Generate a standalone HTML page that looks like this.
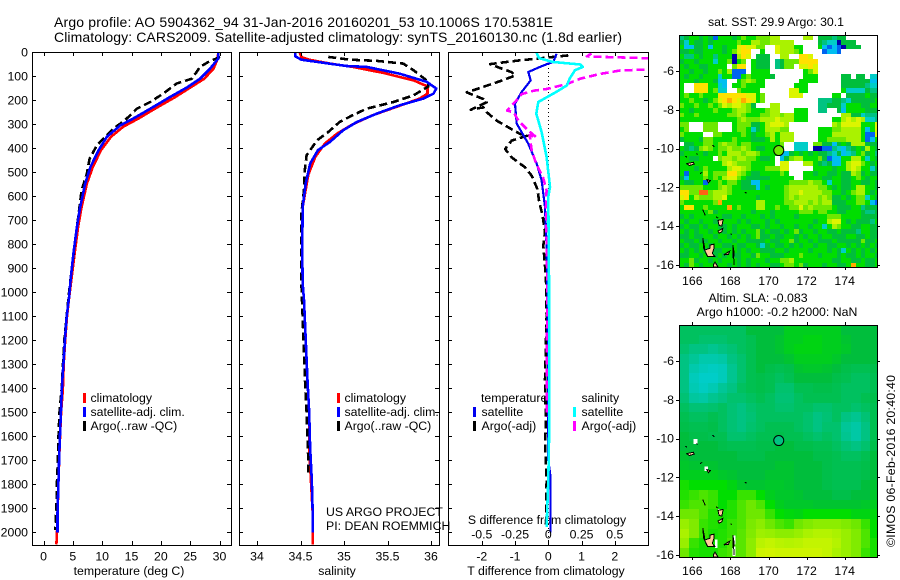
<!DOCTYPE html>
<html>
<head>
<meta charset="utf-8">
<style>
html,body{margin:0;padding:0;background:#fff;width:900px;height:580px;overflow:hidden}
svg{display:block}
text{font-family:"Liberation Sans",sans-serif;font-size:12.3px;fill:#000}
</style>
</head>
<body>
<svg id="chart" xmlns="http://www.w3.org/2000/svg" width="900" height="580" viewBox="0 0 900 580">
<text x="54" y="27" style="font-size:14px" textLength="499" lengthAdjust="spacing">Argo profile: AO 5904362_94 31-Jan-2016 20160201_53 10.1006S 170.5381E</text>
<text x="54" y="42" style="font-size:14px" textLength="568" lengthAdjust="spacing">Climatology: CARS2009. Satellite-adjusted climatology: synTS_20160130.nc (1.8d earlier)</text>
<text x="129" y="575" text-anchor="middle">temperature (deg C)</text>
<text x="337" y="575" text-anchor="middle">salinity</text>
<text x="546" y="575" text-anchor="middle">T difference from climatology</text>
<text x="547" y="524" text-anchor="middle">S difference from climatology</text>
<text x="90.5" y="402">climatology</text>
<text x="90.5" y="416">satellite-adj. clim.</text>
<text x="90.5" y="430">Argo(..raw -QC)</text>
<text x="344.5" y="402">climatology</text>
<text x="344.5" y="416">satellite-adj. clim.</text>
<text x="344.5" y="430">Argo(..raw -QC)</text>
<text x="326" y="516">US ARGO PROJECT</text>
<text x="326" y="530">PI: DEAN ROEMMICH</text>
<text x="481" y="402">temperature</text>
<text x="481.5" y="416">satellite</text>
<text x="481.5" y="430">Argo(-adj)</text>
<text x="581.5" y="402">salinity</text>
<text x="581.5" y="416">satellite</text>
<text x="581.5" y="430">Argo(-adj)</text>
<text x="776" y="26" text-anchor="middle">sat. SST: 29.9 Argo: 30.1</text>
<text x="758" y="302" text-anchor="middle">Altim. SLA: -0.083</text>
<text x="777" y="316" text-anchor="middle">Argo h1000: -0.2 h2000: NaN</text>
<text x="0" y="0" transform="translate(895,461) rotate(-90)" text-anchor="middle" textLength="172" lengthAdjust="spacing">©IMOS 06-Feb-2016 20:40:40</text>
</svg>
<script>
const _ = null;

const depthTicks = [0,100,200,300,400,500,600,700,800,900,1000,1100,1200,1300,1400,1500,1600,1700,1800,1900,2000];
const tempTicks = [0,5,10,15,20,25,30];
const salTicks = [34,34.5,35,35.5,36];
const tDiffTicks = [-2,-1,0,1,2];
const sDiffTicks = [-0.5,-0.25,0,0.25,0.5];
const sDiffTickLabels = ['-0.5','-0.25','0','0.25','0.5'];
const lonTicks = [166,168,170,172,174];
const latTicks = [-6,-8,-10,-12,-14,-16];

const tempClimDepth = [0,26,68,110,147,186,235,276,310,352,408,478,547,644,728,839,936,1026,1100,1200,1300,1400,1500,1645,1783,1921,2000,2050];
const tempClimValues = [29.8,29.7,29,27.4,25,22.5,19,16.2,13.6,11.5,9.8,8.4,7.4,6.5,5.9,5.3,4.8,4.35,4.0,3.7,3.45,3.3,3.0,2.75,2.55,2.4,2.3,2.2];
const tempSatDepth = [0,26,68,110,147,186,235,276,304,352,408,478,547,644,728,839,936,1026,1100,1200,1300,1367,1499,1645,1783,1921,2000];
const tempSatValues = [29.8,29.8,28.4,26.7,24.4,21.6,18.2,15.3,13.1,10.8,9.4,8,7.1,6.25,5.7,5.1,4.67,4.33,3.95,3.65,3.4,3.2,2.96,2.73,2.56,2.39,2.39];
const tempArgoDepth = [19,40,61,110,130,172,207,235,283,318,360,388,443,505,575,672,783,936,1026,1200,1400,1500,1600,1700,1800,1900,1990];
const tempArgoValues = [30.1,28.1,26.7,25.3,22.7,20.4,18.2,15.9,13.9,11.9,10.2,9.1,7.85,7.4,6.5,6,5.4,4.65,4.25,3.55,3.1,2.73,2.56,2.45,2.28,2.2,2.0];

const salClimDepth = [0,20,31,47,61,86,117,142,172,193,228,262,300,339,380,436,510,644,825,964,1033,1367,1500,1645,1783,1921,2000,2050];
const salClimValues = [34.49,34.51,34.6,34.84,35.1,35.45,35.8,35.96,35.96,35.87,35.6,35.33,35.1,34.92,34.78,34.67,34.59,34.525,34.52,34.525,34.54,34.58,34.6,34.6,34.62,34.64,34.64,34.64];
const salSatDepth = [0,17,31,40,57,61,89,123,151,172,193,221,255,290,325,373,408,464,547,644,825,964,1033,1367,1500,1645,1783,1921,2000];
const salSatValues = [34.44,34.44,34.51,34.69,35.03,35.26,35.64,35.95,36.06,36.03,35.91,35.64,35.38,35.15,34.99,34.84,34.7,34.61,34.56,34.525,34.52,34.525,34.54,34.58,34.6,34.61,34.63,34.64,34.64];
const salArgoDepth = [19,31,36,47,75,123,142,179,207,235,262,290,332,367,429,492,575,672,964,1400,1500,1700,1750];
const salArgoValues = [34.82,35.07,35.38,35.68,35.8,35.97,35.97,35.8,35.57,35.26,35.1,34.95,34.82,34.69,34.57,34.55,34.54,34.51,34.51,34.555,34.57,34.59,34.59];

const tDiffSatDepth = [6,40,47,61,82,117,165,214,297,381,464,533,644,811,950,1367,1700,1770,2000];
const tDiffSatValues = [0.25,0.15,0,-0.25,-0.6,-0.53,-0.8,-1,-0.95,-0.6,-0.35,-0.2,-0.1,-0.05,-0.03,0,0,0.07,0.07];
const tDiffArgoDepth = [13,35,42,49,63,83,97,118,132,167,181,195,208,239,229,250,285,313,340,347,368,403,438,479,514,569,625,680,750,805,889,944,1100,1367,1550,1625,1783,1977];
const tDiffArgoValues = [0.6,-0.95,-1.35,-1.75,-1.5,-1.1,-1,-1.4,-1.7,-2.45,-2.2,-1.95,-1.85,-2.33,-1.95,-1.85,-1.55,-1.2,-0.85,-0.63,-1.1,-1.3,-1.1,-0.7,-0.5,-0.33,-0.27,-0.17,-0.1,-0.15,-0.1,-0.07,-0.05,-0.1,-0.07,-0.1,-0.05,-0.07];
const sDiffSatDepth = [0,24,40,51,61,75,110,138,165,207,256,332,436,561,603,950,1547,1783,1977];
const sDiffSatValues = [-0.09,-0.07,0.03,0.24,0.26,0.2,0.16,0.14,0.06,-0.075,-0.09,-0.05,-0.0125,0.0125,0,0.005,0.0075,0,-0.0125];
const sDiffArgoDepth = [5,17,31,62,76,90,110,132,153,160,174,201,243,250,285,326,354,345,410,465,521,576,644,950,1520];
const sDiffArgoValues = [0.325,0.29,1.1,1.2,0.54,0.39,0.24,0.14,-0.0125,-0.11,-0.2,-0.24,-0.31,-0.26,-0.225,-0.15,-0.09,-0.14,-0.125,-0.09,-0.04,-0.0125,-0.0175,-0.0075,-0.0125];

/* colour level per 0.25 degree cell; _ = no data */
const sstGrid = [
[5,6,7,7,6,7,6,2,7,7,7,6,7,8,7,7,8,8,8,9,9,_,_,_,_,_,9,9,_,6,6,6,5,6,6,_,_,_,_,_,_,_],
[6,4,7,6,6,7,6,7,7,7,7,7,8,7,7,9,9,8,8,9,9,9,9,9,_,_,_,_,_,6,5,4,4,1,6,6,6,_,_,_,_,_],
[7,3,3,6,6,7,3,7,7,6,7,7,10,11,10,10,8,8,_,_,10,9,9,9,7,7,_,_,_,7,3,2,3,2,1,6,6,6,_,_,_,_],
[6,6,7,6,6,7,7,7,7,6,7,8,10,11,11,_,_,7,_,_,10,9,9,9,8,7,_,_,_,_,2,3,3,2,_,_,_,_,_,_,_,_],
[7,5,5,7,6,7,7,5,7,7,7,1,9,11,10,_,6,6,6,_,_,9,9,_,_,11,11,10,_,_,_,_,_,_,_,_,_,_,_,_,_,_],
[6,7,7,6,7,7,7,4,7,7,8,1,7,8,_,7,6,6,6,_,5,6,8,8,8,11,11,11,11,_,_,_,_,_,_,_,_,_,_,_,_,_],
[7,6,7,7,6,6,7,7,7,7,_,8,11,11,_,7,6,6,6,_,5,6,8,8,_,10,10,11,10,_,_,_,_,_,_,_,_,_,_,_,_,_],
[7,7,6,7,7,6,7,7,8,7,9,2,2,2,_,7,7,7,7,_,_,_,_,_,_,_,7,8,10,_,_,_,_,_,_,_,_,_,_,_,_,_],
[7,6,7,7,6,7,7,7,4,7,7,2,2,7,8,7,7,7,7,6,_,_,_,_,_,_,7,7,7,_,_,_,_,_,6,6,_,6,6,_,4,4],
[7,7,7,6,7,7,7,6,3,3,_,_,7,8,9,8,7,7,_,_,_,_,_,_,_,7,7,7,7,_,_,_,_,_,6,6,6,6,6,6,3,3],
[7,_,_,11,11,11,7,7,4,3,_,7,7,8,7,7,7,7,_,_,_,_,_,_,7,7,7,_,_,_,_,_,_,_,6,6,6,6,6,5,4,4],
[7,_,_,11,11,11,7,8,4,4,_,_,8,7,7,7,7,_,_,_,_,_,_,10,10,7,7,_,_,_,_,_,_,_,7,4,4,4,4,6,5,5],
[7,8,7,7,8,7,7,7,11,11,11,11,11,11,10,10,7,8,_,_,_,_,_,10,10,10,_,_,_,_,_,_,7,7,_,6,6,6,6,7,6,6],
[7,7,8,7,7,6,7,8,10,11,12,11,10,12,11,10,7,8,_,_,_,_,_,_,_,_,_,_,_,5,5,5,6,6,5,4,6,6,6,6,6,7],
[8,7,7,8,7,7,8,7,8,10,9,10,10,9,8,6,_,_,_,9,9,_,_,_,_,_,_,_,_,5,5,6,6,6,4,7,7,7,6,6,7,7],
[7,7,6,7,7,7,7,8,7,7,7,8,9,9,8,7,7,7,8,9,9,_,_,_,7,7,7,_,_,5,5,_,_,6,3,7,7,7,7,6,6,6],
[8,7,7,8,7,7,7,7,7,7,8,8,9,8,7,7,7,8,8,9,9,8,9,9,7,7,7,_,_,_,_,_,_,_,9,9,6,6,4,5,5,5],
[7,7,7,7,7,7,7,7,7,7,7,7,8,9,8,8,8,9,9,9,10,9,9,9,7,7,7,_,_,_,_,_,7,7,9,10,9,10,9,4,4,5],
[8,8,_,_,_,8,8,8,_,_,_,7,8,8,8,6,6,7,9,10,10,10,9,_,_,_,_,_,_,_,_,_,9,8,10,10,10,10,7,7,7,10],
[7,8,_,_,_,8,8,8,_,_,_,7,8,8,7,4,6,7,9,9,9,8,8,_,_,_,_,_,_,7,7,7,8,8,9,9,9,9,7,3,7,10],
[8,7,7,7,7,_,_,8,8,7,7,7,7,8,7,6,7,7,8,9,7,9,9,9,_,_,_,_,_,7,7,7,9,9,9,9,9,9,7,2,2,10],
[6,7,7,7,6,8,8,7,7,7,7,8,7,7,7,6,6,6,7,9,7,9,9,9,_,_,_,_,_,7,7,8,8,8,8,9,9,9,7,2,3,7],
[_,6,6,7,7,8,8,7,8,9,8,8,7,8,8,7,7,7,7,7,7,8,_,_,4,4,4,_,8,8,6,6,3,6,7,6,9,9,9,6,6,6],
[7,6,5,6,8,9,8,7,8,8,9,8,8,9,8,7,6,6,7,7,8,7,_,_,4,4,4,_,1,1,2,2,5,4,3,5,6,7,6,9,7,6],
[6,7,7,7,7,6,7,7,8,7,9,9,9,8,9,9,8,7,7,7,7,3,3,6,7,6,7,6,7,6,6,5,4,6,3,4,5,7,8,6,7,5],
[7,7,6,6,7,7,7,_,8,9,9,8,9,9,8,8,7,6,6,7,_,3,6,8,9,9,7,7,7,8,6,2,3,3,7,7,9,9,7,4,7,6],
[7,7,7,7,7,7,7,7,7,9,10,9,8,8,8,7,7,7,7,7,_,10,10,_,_,_,9,9,7,6,5,6,3,3,7,9,10,10,8,7,6,7],
[7,7,7,6,7,8,7,7,7,7,9,10,10,9,8,7,7,7,8,8,8,10,10,_,_,_,_,_,7,7,7,7,6,7,7,9,10,9,7,7,4,6],
[7,2,7,7,7,9,7,8,8,8,11,11,9,8,7,6,6,7,7,7,7,8,7,_,_,_,7,7,6,7,7,6,6,7,6,6,9,8,6,7,6,6],
[6,3,7,7,7,8,7,8,7,9,10,10,8,7,6,6,6,6,6,7,7,7,7,7,_,_,7,7,7,7,6,6,7,7,6,6,7,8,7,6,7,7],
[7,6,6,7,7,2,7,7,8,7,8,8,7,6,6,3,3,7,7,7,7,7,7,8,8,8,8,9,8,8,7,4,7,7,6,6,7,7,6,6,7,6],
[8,8,8,8,8,7,7,7,8,9,8,7,7,6,6,6,3,7,6,7,7,7,8,9,9,9,9,9,9,8,8,7,6,7,6,6,7,9,9,7,7,6],
[11,11,8,8,13,13,8,9,9,9,8,7,7,7,7,7,7,7,7,7,7,7,8,9,9,10,9,9,9,9,8,8,7,7,6,7,8,9,9,7,6,7],
[10,11,7,9,8,8,8,9,9,10,7,7,7,7,7,7,6,7,7,7,7,7,8,9,8,9,9,9,9,8,9,8,6,6,7,6,7,8,8,4,7,6],
[8,7,7,7,7,7,7,8,12,7,7,7,7,7,7,7,9,9,7,7,7,7,8,8,9,9,9,8,9,8,9,9,6,6,6,7,7,8,8,7,3,2],
[7,11,11,7,7,8,7,7,7,7,12,7,8,7,7,7,9,9,7,7,8,7,7,8,8,10,8,9,8,8,8,8,7,6,6,6,7,7,5,6,6,6],
[7,7,7,7,7,7,8,6,7,7,7,7,7,7,7,6,7,7,7,6,7,7,7,7,7,8,8,8,7,8,8,7,7,6,6,7,7,7,6,5,5,6],
[6,7,6,7,7,7,7,7,7,6,6,7,7,6,7,7,7,6,7,6,7,7,7,7,6,7,7,7,7,7,7,8,8,8,7,7,7,7,6,6,6,6],
[7,6,7,7,6,7,7,6,7,7,7,7,6,7,6,7,7,7,6,7,6,7,7,7,7,7,7,7,6,7,7,9,10,10,7,6,7,6,6,6,5,7],
[6,7,6,6,7,6,7,7,6,6,7,6,7,7,7,6,6,7,6,7,7,6,7,7,6,7,7,6,7,7,4,7,9,8,7,7,6,6,7,7,6,6],
[7,6,7,6,7,7,6,7,7,6,7,6,7,6,7,7,8,6,7,6,6,7,6,7,8,6,7,7,6,7,7,6,6,7,6,6,6,5,7,7,6,6],
[6,6,7,6,6,7,7,6,7,7,6,7,6,7,6,7,8,6,6,7,6,6,7,7,6,7,6,7,7,6,7,7,6,6,6,7,7,6,6,7,6,6],
[7,6,6,7,6,6,7,7,6,7,7,6,7,7,6,6,6,6,7,6,6,7,7,8,6,7,7,6,7,6,6,6,7,6,6,6,6,6,8,6,6,7],
[6,7,6,6,7,7,6,7,7,6,6,7,6,6,7,7,6,4,6,7,6,6,7,6,7,6,7,7,6,7,7,6,6,7,7,6,7,6,7,6,7,6],
[7,6,7,6,7,6,7,6,6,7,7,7,6,7,6,7,7,6,6,6,7,7,6,7,7,7,7,6,7,7,7,6,7,6,4,7,6,7,6,7,6,7],
[6,6,7,7,6,7,7,6,7,6,7,6,6,7,7,6,8,7,7,6,6,6,7,7,7,8,7,7,7,6,7,7,7,6,7,6,6,7,6,7,7,6],
[7,7,8,6,7,7,6,7,6,7,7,7,6,7,6,7,7,7,6,7,7,8,8,9,7,7,7,7,7,7,7,7,6,6,7,7,6,6,7,6,6,7],
[7,6,8,7,6,7,7,6,7,7,6,7,6,7,6,7,6,7,7,6,6,7,8,8,7,8,6,7,7,7,6,7,7,6,6,7,12,7,7,6,6,7]
];

/* colour level per 0.5 degree cell */
const slaGrid = [
[5.5,5.5,5.5,5.5,5.5,5.5,5.5,6,6,6,6,6.5,6.5,6.5,6.5,6.5,6.5,6,6,6,6],
[5.5,5.5,5.3,5.3,5.3,5.5,5.5,5.7,6,6,6.2,6.5,6.5,6.7,6.7,6.5,6.5,6.2,6,6,6],
[5.3,5,5,4.8,5,5.2,5.5,5.7,6,6,6.2,6.5,6.7,6.7,6.7,6.5,6.5,6.3,6,6,6],
[5,4.7,4.4,4.4,4.5,5,5.3,5.7,6,6,6,6.2,6.5,6.5,6.5,6.5,6.3,6,6,6,6],
[5,4.4,4.2,4.1,4.2,4.8,5.3,5.7,6,5.8,5.7,5.8,6.2,6.3,6.3,6.2,6,5.8,5.7,5.7,5.8],
[5,4.2,4,4,4.2,4.8,5.3,5.7,5.8,5.7,5.5,5.7,6,6,6,6,5.8,5.7,5.5,5.5,5.7],
[5,4.3,4.1,4.3,4.7,5,5.5,5.7,5.8,5.7,5.3,5.3,5.7,5.7,5.8,5.8,5.7,5.5,5.5,5.5,5.7],
[5.2,4.6,4.5,4.8,5,5.3,5.3,5.5,5.7,5.5,5.2,5.2,5.5,5.7,5.7,5.7,5.7,5.5,5.5,5.7,5.8],
[5.5,5.2,5.2,5.3,5.5,5.2,5,5.3,5.5,5.5,5.3,5.3,5.5,5.5,5.3,5.3,5.5,5.5,5.3,5.5,5.7],
[5.7,5.5,5.5,5.7,5.5,5.2,5,5.2,5.5,5.5,5.5,5.5,5.5,5.3,5,5.2,5.5,5,4.8,5.2,5.7],
[5.8,5.7,5.7,5.8,5.5,5.2,5,5.3,5.5,5.7,5.7,5.7,5.5,5.3,5,5.3,5.3,4.7,4.5,5,5.7],
[6,5.8,5.8,5.7,5.7,5.3,5.3,5.5,5.7,5.7,5.8,5.7,5.7,5.5,5.3,5.5,5.3,4.8,4.5,5,5.7],
[6,6,6,6,5.8,5.7,5.7,5.7,5.8,5.8,6,6,5.8,5.8,5.7,5.7,5.5,5.2,5,5.3,5.8],
[6.2,6,6,6,6,6,5.8,5.8,5.8,6,6,6,6,6,5.8,5.8,5.7,5.5,5.5,5.7,6],
[6.3,6.2,6.2,6.2,6,6,6,6,6,6,6.2,6.2,6,6,6,5.8,5.7,5.7,5.7,5.8,6],
[6.5,6.5,6.5,6.5,6.3,6.2,6,6,6,6.2,6.2,6.2,6,6,6,5.8,5.7,5.7,5.7,5.8,6],
[7.2,7,7,7,7,6.7,6.3,6.2,6.2,6.3,6.3,6.2,6,6,6,5.8,5.7,5.7,5.7,6,6.2],
[7.3,7.5,7.7,7.5,7,7,7.5,7.5,7,6.5,6.3,6.3,6.2,6,6,6,5.8,5.8,6,6,6.3],
[7.5,7.7,7.7,7.5,7,7.3,7.7,8,7.7,7,6.5,6.3,6.3,6.3,6.2,6.2,6.2,6.2,6.2,6.3,6.5],
[8,8,7.7,7.3,7.2,7.3,7.7,8,8,7.5,7,6.8,6.7,7,7,7,7,7,6.7,6.7,6.8],
[8.7,8.3,7.5,7.3,7.2,7.5,7.7,8.2,8.5,8,7.7,7.5,8,8.3,8.5,8.5,8.5,8.3,8,7.5,7],
[9,8.3,7.5,7.2,7.3,7.5,7.8,8.3,8.8,8.7,8.5,8.5,8.7,9,9.2,9.2,9,8.7,8.3,7.7,7],
[8.7,7.5,7.2,7.2,7.3,7.7,7.8,8.5,9.3,9.5,9.3,9.2,9.3,9.5,9.5,9.5,9.2,8.7,8.3,7.7,7.2],
[8,7.3,7.2,7.2,7.5,7.7,7.8,8.5,9.7,9.8,9.7,9.7,9.7,9.7,9.7,9.5,9,8.7,8.3,7.5,7.2]
];

const colorLevels = [1,2,3,4,5,6,7,8,9,10,11,12,13];
const colorStops = ['0,0,170','0,100,240','0,190,240','0,205,200','0,195,130','0,190,60','0,222,0','110,232,0','170,242,0','220,245,0','255,225,0','255,170,0','255,100,20'];

const floatLon = [170.5381];
const floatLat = [-10.1006];
const sstFloatLevel = [8];
const slaFloatLevel = [5];

/* lon,lat outlines of the Vanuatu / Solomon islands */
const islandShapes = [
[166.55,-14.62,166.63,-15.0,166.63,-15.23,166.93,-15.14,166.93,-14.97,167.14,-14.93,167.14,-15.14,167.05,-15.4,167.19,-15.57,166.81,-15.57,166.6,-15.14],
[167.1,-16.0,167.19,-15.85,167.35,-16.1,167.1,-16.1],
[167.66,-15.48,167.97,-15.28,167.9,-15.45],
[168.13,-14.97,168.2,-15.4,168.15,-15.7],
[168.18,-15.7,168.2,-16.0],
[165.7,-10.78,166.05,-10.7,166.1,-10.8,165.85,-10.87],
[165.64,-10.4,165.72,-10.44],
[166.2,-10.26,166.28,-10.3],
[167.05,-9.82,167.16,-9.9],
[166.4,-11.3,166.52,-11.22],
[166.76,-11.6,166.95,-11.65,166.84,-11.75],
[168.75,-12.24,168.85,-12.3],
[166.55,-13.15,166.68,-13.45],
[167.25,-13.52,167.36,-13.58],
[167.35,-13.7,167.62,-13.65,167.55,-14.0,167.4,-13.95],
[167.35,-14.25,167.6,-14.12,167.55,-14.3,167.4,-14.35],
[168.0,-14.4,168.08,-14.42]
];
/* lon,lat,width,height of coastal no-data cells in the altimetry map */
const slaMaskCells = [
[166.05,-10.03,0.22,0.25],[166.63,-11.45,0.2,0.22],[167.2,-15.2,0.12,0.45],[168.1,-15.0,0.18,0.45],[168.1,-15.55,0.18,0.5],[167.35,-13.62,0.1,0.3]
];

const svg = document.getElementById('chart');
const NS = 'http://www.w3.org/2000/svg';
function make(tag, attrs, parent) {
  const n = document.createElementNS(NS, tag);
  for (const k in attrs) n.setAttribute(k, attrs[k]);
  (parent || svg).appendChild(n);
  return n;
}

const PANEL_TOP = 52, PANEL_BOTTOM = 545;
function depthY(d) { return 52.3 + d * 0.24; }
function tempX(t) { return 43.5 + t * 5.867; }
function salX(s) { return 257 + (s - 34) * 87; }
function tDiffX(v) { return 548.3 + v * 33.25; }
function sDiffX(v) { return 548.3 + v * 133; }
function lonX(lon) { return 692.3 + (lon - 166) * 19.05; }
function latY(lat, y6) { return y6 + (-6 - lat) * 19.4; }

function clipRect(id, x, y, w, h) {
  const c = make('clipPath', {id: id});
  make('rect', {x: x, y: y, width: w, height: h}, c);
}

function frame(name, x0, y0, x1, y1) {
  const r = make('rect', {x: x0 + 0.5, y: y0 + 0.5, width: x1 - x0, height: y1 - y0, fill: 'none', stroke: '#000', 'stroke-width': 1, 'shape-rendering': 'crispEdges'});
  
  
}
function tickLine(name, x1, y1, x2, y2) {
  const l = make('line', {x1: x1, y1: y1, x2: x2, y2: y2, stroke: '#000', 'stroke-width': 1, 'shape-rendering': 'crispEdges'});
  
  
}
function label(name, str, x, y, anchor) {
  const t = make('text', {x: x, y: y, 'text-anchor': anchor});
  t.textContent = str;
  
  
}

function profile(name, depths, values, xFn, color, dashed, clip, width) {
  const pts = depths.map(function (d, i) { return xFn(values[i]).toFixed(1) + ',' + depthY(d).toFixed(1); }).join(' ');
  const p = make('polyline', {points: pts, fill: 'none', stroke: color, 'stroke-width': width || 2.6, 'shape-rendering': 'crispEdges', 'stroke-linejoin': 'round', 'clip-path': 'url(#' + clip + ')'});
  if (dashed) p.setAttribute('stroke-dasharray', '8 4');
  
  
}

function legendBar(name, x, y, color) {
  const b = make('rect', {x: x, y: y, width: 3, height: 10, fill: color, 'shape-rendering': 'crispEdges'});
  
  
}

const panels = [
  {name: 'temperature', x0: 32, x1: 231, ticks: tempTicks, xFn: tempX, labels: tempTicks.map(String)},
  {name: 'salinity', x0: 239, x1: 439, ticks: salTicks, xFn: salX, labels: salTicks.map(String)},
  {name: 'difference', x0: 448, x1: 648, ticks: tDiffTicks, xFn: tDiffX, labels: tDiffTicks.map(String)}
];

panels.forEach(function (p) {
  clipRect('clip-' + p.name, p.x0, PANEL_TOP, p.x1 - p.x0 + 1, PANEL_BOTTOM - PANEL_TOP);
});

/* difference panel zero line */
const zeroLine = make('line', {x1: tDiffX(0), x2: tDiffX(0), y1: PANEL_TOP, y2: PANEL_BOTTOM, stroke: '#000', 'stroke-width': 1, 'stroke-dasharray': '1 3', 'shape-rendering': 'crispEdges'});



profile('temperature-climatology-line', tempClimDepth, tempClimValues, tempX, '#f00', false, 'clip-temperature');
profile('temperature-argo-line', tempArgoDepth, tempArgoValues, tempX, '#000', true, 'clip-temperature');
profile('temperature-satellite-line', tempSatDepth, tempSatValues, tempX, '#00f', false, 'clip-temperature');

profile('salinity-climatology-line', salClimDepth, salClimValues, salX, '#f00', false, 'clip-salinity');
profile('salinity-argo-line', salArgoDepth, salArgoValues, salX, '#000', true, 'clip-salinity');
profile('salinity-satellite-line', salSatDepth, salSatValues, salX, '#00f', false, 'clip-salinity');

profile('t-difference-argo-line', tDiffArgoDepth, tDiffArgoValues, tDiffX, '#000', true, 'clip-difference');
profile('t-difference-satellite-line', tDiffSatDepth, tDiffSatValues, tDiffX, '#00e', false, 'clip-difference', 2.2);
profile('s-difference-argo-line', sDiffArgoDepth, sDiffArgoValues, sDiffX, '#f0f', true, 'clip-difference');
profile('s-difference-satellite-line', sDiffSatDepth, sDiffSatValues, sDiffX, '#0ff', false, 'clip-difference');

panels.forEach(function (p) {
  frame(p.name + '-panel-frame', p.x0, PANEL_TOP, p.x1, PANEL_BOTTOM);
  p.ticks.forEach(function (v, i) {
    const x = Math.round(p.xFn(v)) + 0.5;
    tickLine(p.name + '-x-tick-bottom', x, PANEL_BOTTOM, x, PANEL_BOTTOM - 4);
    tickLine(p.name + '-x-tick-top', x, PANEL_TOP, x, PANEL_TOP + 4);
    label(p.name + '-x-tick-label', p.labels[i], p.xFn(v), 560.5, 'middle');
  });
  depthTicks.forEach(function (d) {
    const y = Math.round(depthY(d)) + 0.5;
    tickLine(p.name + '-y-tick-left', p.x0, y, p.x0 + 4, y);
    tickLine(p.name + '-y-tick-right', p.x1, y, p.x1 - 4, y);
  });
});
depthTicks.forEach(function (d) {
  label('depth-tick-label', String(d), 28, depthY(d) + 4, 'end');
});
sDiffTicks.forEach(function (v, i) {
  label('s-difference-tick-label', sDiffTickLabels[i], sDiffX(v), 538.5, 'middle');
});

legendBar('legend-bar-temp-climatology', 83, 393, '#f00');
legendBar('legend-bar-temp-satellite', 83, 407, '#00f');
legendBar('legend-bar-temp-argo', 83, 421, '#000');
legendBar('legend-bar-sal-climatology', 337, 393, '#f00');
legendBar('legend-bar-sal-satellite', 337, 407, '#00f');
legendBar('legend-bar-sal-argo', 337, 421, '#000');
legendBar('legend-bar-diff-temp-satellite', 473, 407, '#00e');
legendBar('legend-bar-diff-temp-argo', 473, 421, '#000');
legendBar('legend-bar-diff-sal-satellite', 573, 407, '#0ff');
legendBar('legend-bar-diff-sal-argo', 573, 421, '#f0f');

function levelColor(v) {
  const c = Math.max(colorLevels[0], Math.min(colorLevels[colorLevels.length - 1], v));
  const i = Math.min(colorLevels.length - 2, Math.floor(c - colorLevels[0]));
  const f = c - colorLevels[i];
  const a = colorStops[i].split(',').map(Number), b = colorStops[i + 1].split(',').map(Number);
  return 'rgb(' + a.map(function (q, k) { return Math.round(q + (b[k] - q) * f); }).join(',') + ')';
}

const MAP_LON0 = 165.33, MAP_LAT0 = -4.14;
function drawMap(key, grid, step, yTop, y6, floatLevel, masks) {
  const x0 = 679, x1 = 877, y1 = yTop + 232;
  clipRect('clip-' + key, x0, yTop, x1 - x0, y1 - yTop);
  const g = make('g', {'clip-path': 'url(#clip-' + key + ')', 'shape-rendering': 'crispEdges'});
  
  
  grid.forEach(function (row, j) {
    row.forEach(function (v, i) {
      if (v === null) return;
      const lonA = MAP_LON0 + i * step, latA = MAP_LAT0 - j * step;
      const xa = Math.round(lonX(lonA)), xb = Math.round(lonX(lonA + step));
      const ya = Math.round(latY(latA, y6)), yb = Math.round(latY(latA - step, y6));
      const c = make('rect', {x: xa, y: ya, width: xb - xa, height: yb - ya, fill: levelColor(v)}, g);
      
      
    });
  });
  masks.forEach(function (m) {
    const r = make('rect', {x: lonX(m[0]), y: latY(m[1], y6), width: m[2] * 19.05, height: m[3] * 19.4, fill: '#fff'}, g);
    
    
  });
  islandShapes.forEach(function (s) {
    const pts = [];
    for (let k = 0; k < s.length; k += 2) pts.push(lonX(s[k]).toFixed(1) + ',' + latY(s[k + 1], y6).toFixed(1));
    const isl = make('polygon', {points: pts.join(' '), fill: '#ffcc99', stroke: '#000', 'stroke-width': 1}, g);
    
    
  });
  const marker = make('circle', {cx: lonX(floatLon[0]), cy: latY(floatLat[0], y6), r: 5, fill: levelColor(floatLevel[0]), stroke: '#000', 'stroke-width': 1});
  
  
  frame(key + '-map-frame', x0, yTop, x1, y1);
  lonTicks.forEach(function (lon) {
    const x = Math.round(lonX(lon)) + 0.5;
    tickLine(key + '-lon-tick-top', x, yTop, x, yTop - 3);
    tickLine(key + '-lon-tick-bottom', x, y1, x, y1 + 3);
    label(key + '-lon-tick-label', String(lon), lonX(lon), y1 + 18, 'middle');
  });
  latTicks.forEach(function (lat) {
    const y = Math.round(latY(lat, y6)) + 0.5;
    tickLine(key + '-lat-tick-left', x0, y, x0 - 3, y);
    tickLine(key + '-lat-tick-right', x1, y, x1 + 3, y);
    label(key + '-lat-tick-label', String(lat), 674, latY(lat, y6) + 4, 'end');
  });
}

drawMap('sst', sstGrid, 0.25, 35, 71, sstFloatLevel, []);
drawMap('sla', slaGrid, 0.5, 325, 361, slaFloatLevel, slaMaskCells);
</script>
</body>
</html>
